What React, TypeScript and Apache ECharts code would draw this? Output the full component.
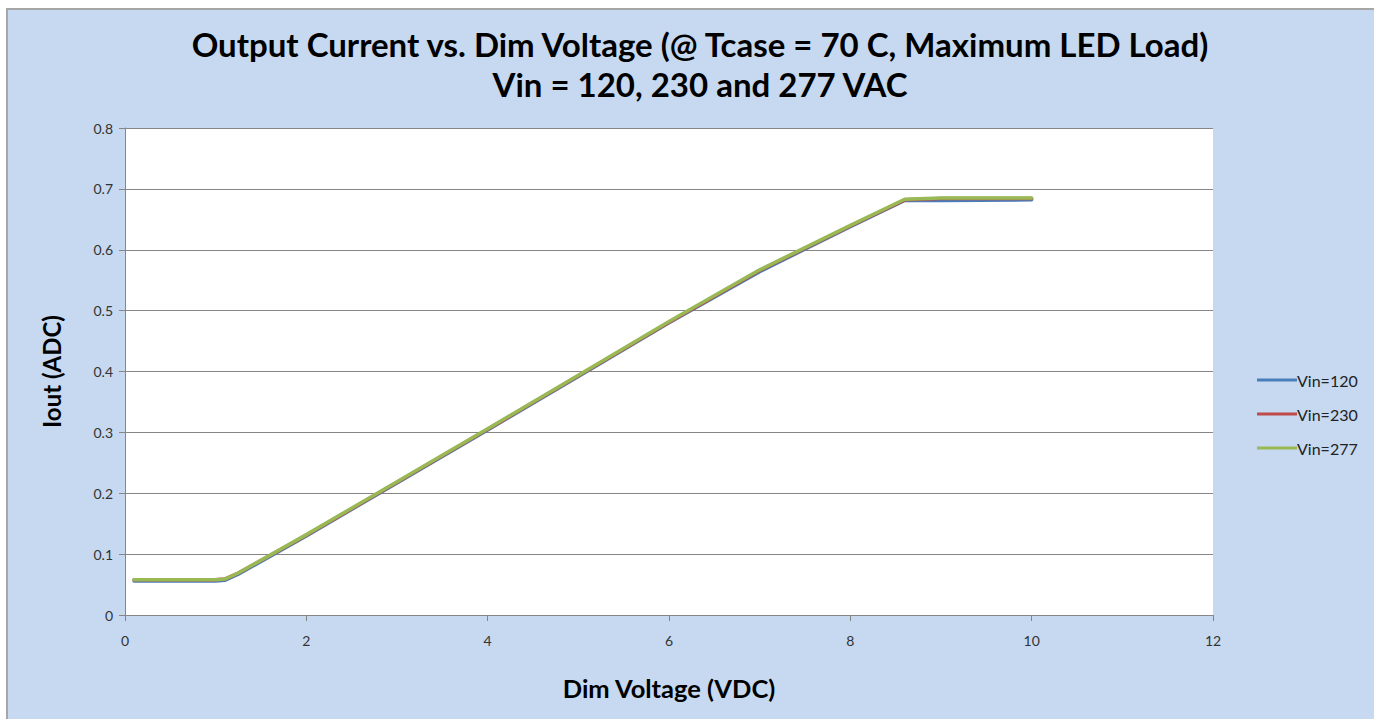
import React, { useEffect, useRef } from "react";
import * as echarts from "echarts";

const dimVoltage = [0.1, 0.5, 1.0, 1.1, 1.25, 2, 3, 4, 5, 6, 7, 8, 8.6, 9, 10];
const vin120 = [0.056, 0.056, 0.056, 0.057, 0.067, 0.130, 0.217, 0.304, 0.392, 0.480, 0.564, 0.638, 0.681, 0.681, 0.682];
const vin230 = [0.058, 0.058, 0.058, 0.059, 0.069, 0.131, 0.218, 0.305, 0.393, 0.481, 0.566, 0.639, 0.682, 0.684, 0.684];
const vin277 = [0.058, 0.058, 0.058, 0.059, 0.069, 0.132, 0.219, 0.306, 0.394, 0.482, 0.567, 0.640, 0.683, 0.685, 0.685];

const seriesNames = ["Vin=120", "Vin=230", "Vin=277"];
const seriesColors = ["#4a7ebb", "#be4b48", "#98b954"];
const seriesValues = [vin120, vin230, vin277];

const titleLine1 = "Output Current vs. Dim Voltage (@ Tcase = 70 C, Maximum LED Load)";
const titleLine2 = "Vin = 120, 230 and 277 VAC";
const xName = "Dim Voltage (VDC)";
const yName = "Iout (ADC)";

const FONT = "Lato, 'Open Sans', sans-serif";

export default function App() {
  const ref = useRef<HTMLDivElement>(null);
  useEffect(() => {
    if (!ref.current) return;
    const chart = echarts.init(ref.current, null, { renderer: "svg" });
    chart.setOption({
      animation: false,
      backgroundColor: "transparent",
      textStyle: { fontFamily: FONT },
      title: {
        text: titleLine1 + "\n" + titleLine2,
        left: 695,
        top: 19,
        textAlign: "center",
        textStyle: {
          fontFamily: FONT,
          fontSize: 33,
          fontWeight: "bold",
          color: "#000",
          lineHeight: 40,
        },
      },
      legend: {
        orient: "vertical",
        left: 1252,
        top: 367,
        itemGap: 18,
        itemWidth: 40,
        itemHeight: 16,
        icon: "path://M0,0 L40,0 L40,3 L0,3 Z",
        textStyle: { fontFamily: FONT, fontSize: 16, color: "#222", padding: [0, 0, 0, -5] },
        data: seriesNames,
      },
      grid: {
        left: 125,
        top: 128,
        width: 1088,
        height: 487,
        show: true,
        backgroundColor: "#ffffff",
        borderWidth: 0,
      },
      xAxis: {
        type: "value",
        min: 0,
        max: 12,
        interval: 2,
        name: xName,
        nameLocation: "middle",
        nameGap: 60,
        nameTextStyle: { fontFamily: FONT, fontSize: 25.5, fontWeight: "bold", color: "#000" },
        axisLine: { show: true, lineStyle: { color: "#868686", width: 1 } },
        axisTick: { show: true, length: 6, lineStyle: { color: "#868686" } },
        axisLabel: { fontFamily: FONT, fontSize: 14, color: "#333", margin: 18 },
        splitLine: { show: false },
      },
      yAxis: {
        type: "value",
        min: 0,
        max: 0.8,
        interval: 0.1,
        name: yName,
        nameLocation: "middle",
        nameGap: 62,
        nameRotate: 90,
        nameTextStyle: { fontFamily: FONT, fontSize: 24, fontWeight: "bold", color: "#000" },
        axisLine: { show: true, lineStyle: { color: "#868686", width: 1 } },
        axisTick: { show: true, length: 6, lineStyle: { color: "#868686" } },
        axisLabel: {
          fontFamily: FONT,
          fontSize: 14,
          color: "#333",
          margin: 12,
          formatter: (v: number) => (v === 0 ? "0" : String(Math.round(v * 10) / 10)),
        },
        splitLine: { show: true, lineStyle: { color: "#868686", width: 1 } },
      },
      series: seriesNames.map((name, i) => ({
        name,
        type: "line",
        data: dimVoltage.map((x, j) => [x, seriesValues[i][j]]),
        showSymbol: false,
        symbol: "none",
        smooth: false,
        lineStyle: { color: seriesColors[i], width: 3.5, join: "round", cap: "round" },
        itemStyle: { color: seriesColors[i] },
      })),
    });
    return () => chart.dispose();
  }, []);

  return (
    <div style={{ position: "fixed", left: 0, top: 0, width: 1374, height: 719, background: "#ffffff", overflow: "hidden" }}>
      <div
        style={{
          position: "absolute",
          left: 6,
          top: 8,
          width: 1368,
          height: 711,
          background: "#c6d9f0",
          borderTop: "2px solid #a6a6a6",
          borderLeft: "2px solid #a6a6a6",
          boxSizing: "border-box",
        }}
      />
      <div ref={ref} style={{ position: "absolute", left: 0, top: 0, width: 1374, height: 719 }} />
    </div>
  );
}
